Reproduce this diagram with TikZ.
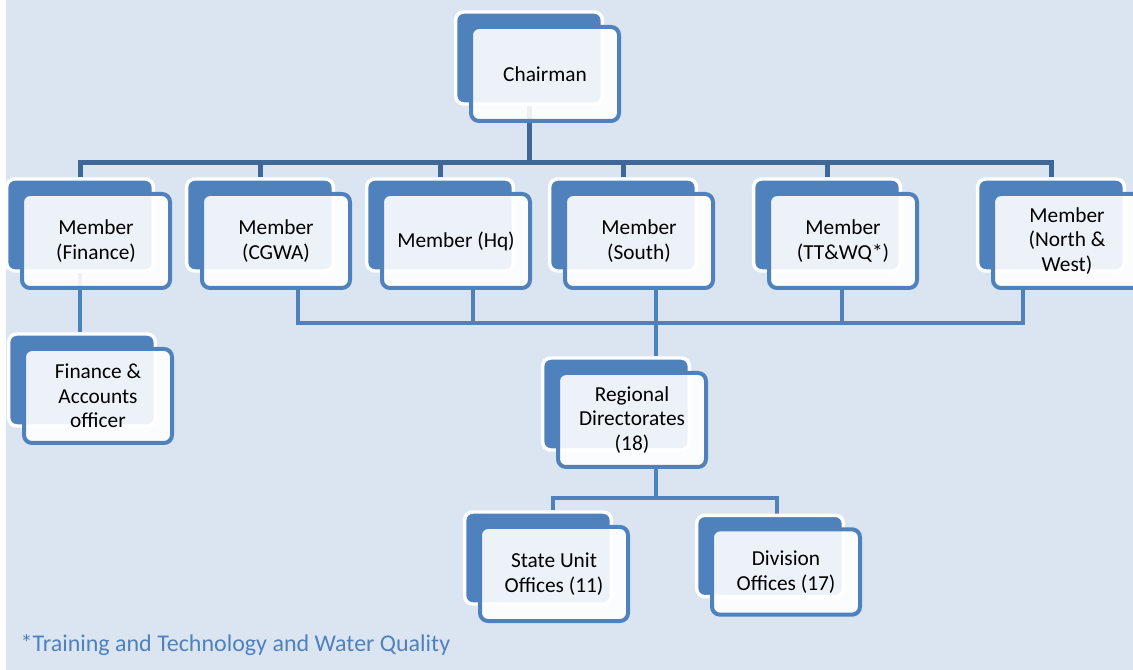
\documentclass[tikz,border=0pt]{standalone}
\usepackage{fontspec}
\setmainfont{Carlito}
\usetikzlibrary{backgrounds}
\definecolor{paneblue}{HTML}{DBE5F1}
\definecolor{boxblue}{HTML}{4F81BD}
\definecolor{busblue}{HTML}{3F6897}
\tikzset{backbox/.style = {draw=white, line width=2.6pt, fill=boxblue,
                           rounded corners=6pt, minimum width=110pt,
                           minimum height=69pt},
         frontbox/.style = {draw=boxblue, line width=3pt, fill=white,
                            fill opacity=0.9, text opacity=1,
                            rounded corners=6pt, minimum width=111pt,
                            minimum height=70.5pt, align=center,
                            font=\fontsize{16pt}{18.5pt}\selectfont},
         topline/.style = {draw=busblue, line width=3.75pt},
         lowline/.style = {draw=boxblue, line width=3.6pt},
         note/.style = {text=boxblue, font=\fontsize{18pt}{21pt}\selectfont}}

\begin{document}
\begin{tikzpicture}[x=0.75pt, y=-0.75pt]
      \useasboundingbox (0, 0) rectangle (1133, 670);
      % chairman
      \node [backbox] (chairB) at (529, 58) {};
      \node [frontbox] (chair) at ([shift={(16,16)}]chairB.center) {Chairman};
      % members
      \node [backbox] (finB) at (80, 225) {};
      \node [frontbox] (fin) at ([shift={(16,16)}]finB.center) {Member\\(Finance)};
      \node [backbox] (cgwaB) at (260, 225) {};
      \node [frontbox] (cgwa) at ([shift={(16,16)}]cgwaB.center) {Member\\(CGWA)};
      \node [backbox] (hqB) at (440, 225) {};
      \node [frontbox] (hq) at ([shift={(16,16)}]hqB.center) {Member (Hq)};
      \node [backbox] (southB) at (623, 225) {};
      \node [frontbox] (south) at ([shift={(16,16)}]southB.center) {Member\\(South)};
      \node [backbox] (ttwqB) at (827, 225) {};
      \node [frontbox] (ttwq) at ([shift={(16,16)}]ttwqB.center) {Member\\(TT\&WQ*)};
      \node [backbox] (nwB) at (1051, 225) {};
      \node [frontbox] (nw) at ([shift={(16,16)}]nwB.center) {Member\\(North \&\\West)};
      % lower levels
      \node [backbox] (faB) at (82, 380) {};
      \node [frontbox] (fa) at ([shift={(16,16)}]faB.center) {Finance \&\\Accounts\\officer};
      \node [backbox] (regB) at (616, 404) {};
      \node [frontbox] (reg) at ([shift={(16,16)}]regB.center) {Regional\\Directorates\\(18)};
      \node [backbox] (stateB) at (538, 558) {};
      \node [frontbox] (state) at ([shift={(16,16)}]stateB.center) {State Unit\\Offices (11)};
      \node [backbox, minimum height=61pt] (divB) at (770, 556) {};
      \node [frontbox, minimum height=64pt] (div) at ([shift={(16,16)}]divB.center) {Division\\Offices (17)};
      \node [note, anchor=west] (foot) at (16, 645) {*Training and Technology and Water Quality};
      % bus points
      \coordinate (topbus) at (529, 163);
      \coordinate (l1) at (298, 323);
      \coordinate (l2) at (473, 323);
      \coordinate (l3) at (656, 323);
      \coordinate (l4) at (842, 323);
      \coordinate (l5) at (1023, 323);
      \coordinate (s0) at (656, 498);
      \coordinate (s1) at (553, 498);
      \coordinate (s2) at (777, 498);
      \begin{scope}[on background layer]
        \fill [white] (0, 0) rectangle (1133, 670);
        \fill [paneblue] (6, 0) rectangle (1133, 670);
        \draw [topline] (chairB.south) -- (topbus);
        \draw [topline] (finB.north) -- (finB.north |- topbus) -- (nwB.north |- topbus) -- (nwB.north);
        \draw [topline] (cgwaB.north |- topbus) -- (cgwaB.north);
        \draw [topline] (hqB.north |- topbus) -- (hqB.north);
        \draw [topline] (southB.north |- topbus) -- (southB.north);
        \draw [topline] (ttwqB.north |- topbus) -- (ttwqB.north);
        \draw [lowline] (finB.south) -- (finB.south |- faB.north);
        \draw [lowline] (cgwa.south -| l1) -- (l1) -- (l5) -- (nw.south -| l5);
        \draw [lowline] (hq.south -| l2) -- (l2);
        \draw [lowline] (south.south -| l3) -- (l3) -- (l3 |- regB.north);
        \draw [lowline] (ttwq.south -| l4) -- (l4);
        \draw [lowline] (reg.south -| s0) -- (s0);
        \draw [lowline] (s1 |- stateB.north) -- (s1) -- (s2) -- (s2 |- divB.north);
      \end{scope}
    \end{tikzpicture}
\end{document}
